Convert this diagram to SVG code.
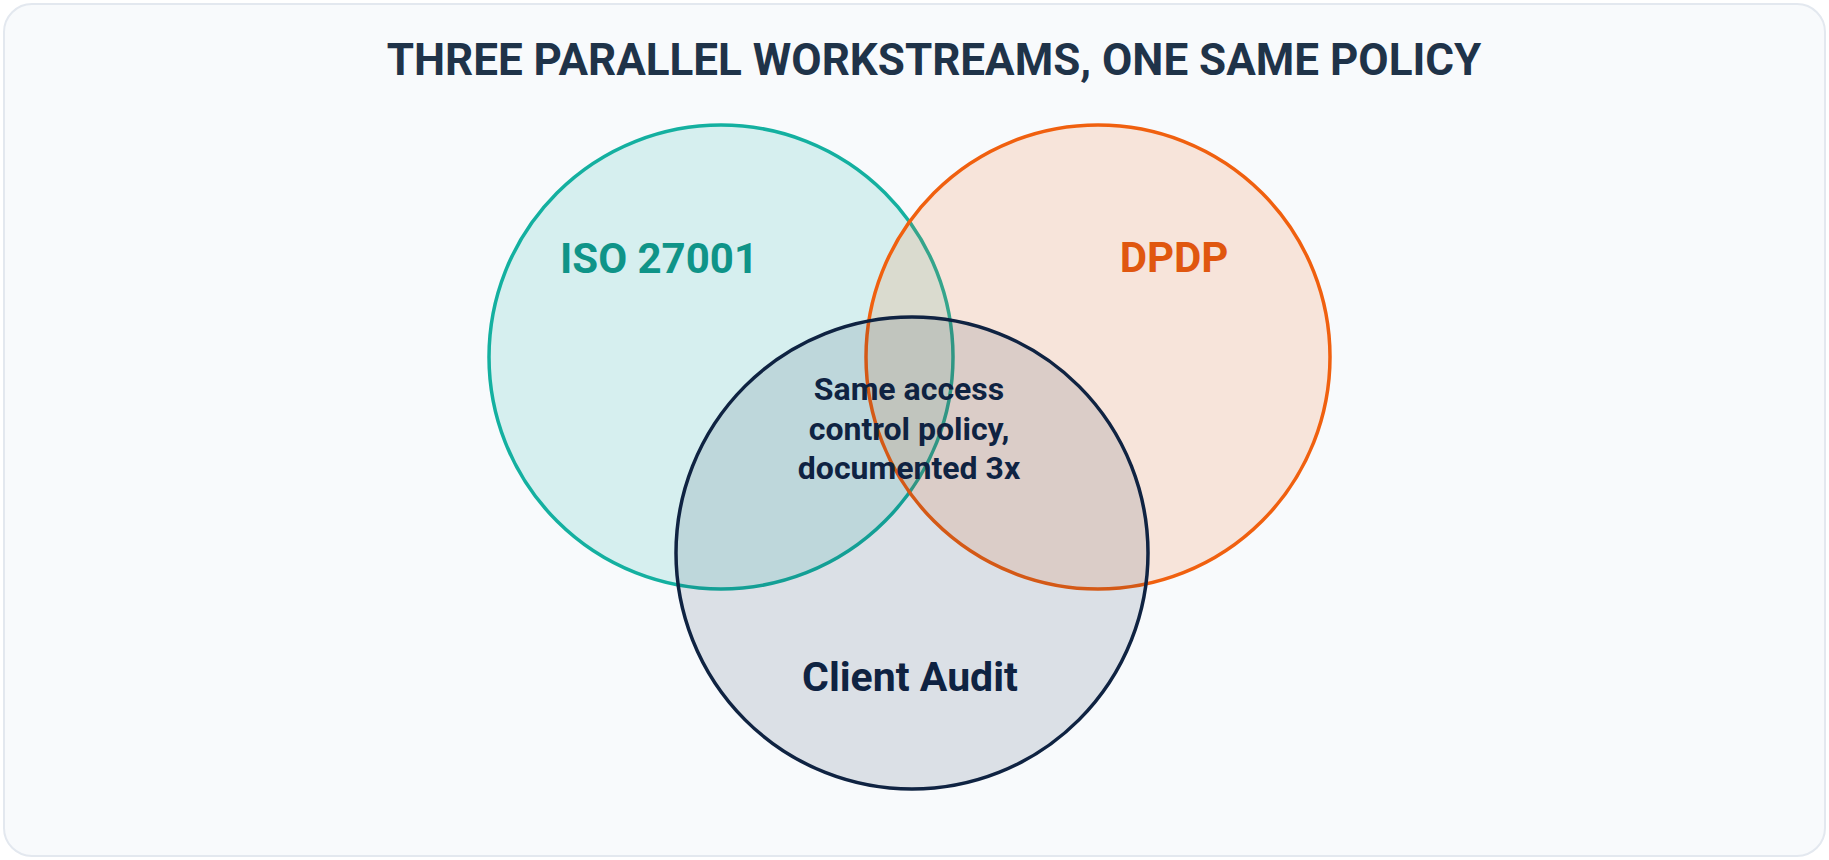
<svg xmlns="http://www.w3.org/2000/svg" width="1829" height="860" viewBox="0 0 1829 860">
<style>
text{font-family:Roboto,"Liberation Sans",sans-serif;font-weight:700;text-anchor:middle}
.title{font-size:44px;fill:#1f3349}
.lbl{font-size:42px}
.mid{font-size:32px;fill:#0f2342}
</style>
<rect x="4" y="4" width="1821" height="852" rx="28" fill="#f8fafc" stroke="#e3e8ef" stroke-width="2"/>
<text class="title" x="934" y="75">THREE PARALLEL WORKSTREAMS, ONE SAME POLICY</text>
<g id="iso"><circle cx="721" cy="357" r="232" fill="#14b8a6" fill-opacity="0.15" stroke="#14b0a0" stroke-width="3.5"/></g>
<g id="dpdp"><circle cx="1098" cy="357" r="232" fill="#f26b1d" fill-opacity="0.15" stroke="#f0600f" stroke-width="3.5"/></g>
<g id="client"><circle cx="912" cy="553" r="236" fill="#13294b" fill-opacity="0.12" stroke="#0f2342" stroke-width="3.5"/></g>
<g id="labels">
<text class="lbl" x="659" y="273" fill="#0f9488">ISO 27001</text>
<text class="lbl" x="1174" y="272" fill="#e0570f">DPDP</text>
<text class="lbl" x="910" y="691" fill="#0f2342" style="font-size:41px">Client Audit</text>
<text class="mid" x="909" y="400">Same access</text>
<text class="mid" x="909" y="440">control policy,</text>
<text class="mid" x="909" y="479">documented 3x</text>
</g>
<g id="connectors"/>
</svg>
